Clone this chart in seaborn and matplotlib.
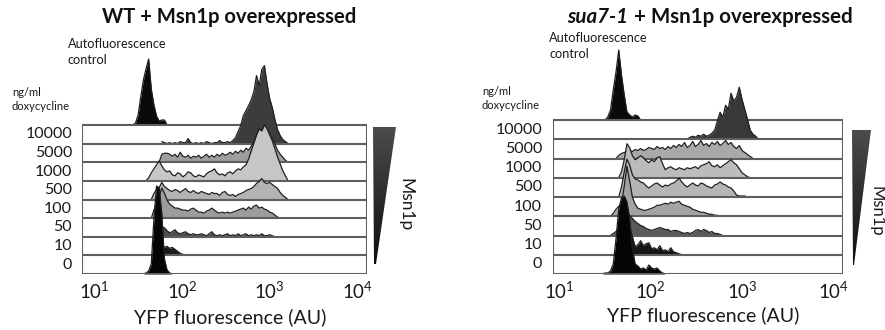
import numpy as np
import pandas as pd
import matplotlib
matplotlib.use("Agg")
import matplotlib.pyplot as plt
import matplotlib.transforms as mtransforms
from matplotlib.patches import Polygon
from matplotlib.ticker import NullLocator
from matplotlib.colors import LinearSegmentedColormap
import seaborn as sns

sns.set_theme(style="white")
plt.rcParams["font.family"] = ["Lato", "DejaVu Sans"]
plt.rcParams["mathtext.default"] = "regular"

# ---------------- data ----------------
BIN = 0.03  # channel width in log10(AU)
dox_labels = ["0", "10", "50", "100", "500", "1000", "5000", "10000"]
tick_values = [10, 100, 1000, 10000]

# WT + Msn1p : first channel (log10 AU) and counts per channel
wt_start = [1.56, 1.68, 1.68, 1.65, 1.65, 1.59, 1.74, 1.77]
wt_auto_start = 1.44
wt_auto = [0, 2, 10, 28, 45, 56, 66, 36, 20, 9, 4, 5, 5, 0]
wt_0 = [0, 1, 3, 10, 55, 88, 86, 60, 15, 4, 1, 0]
wt_10 = [0, 5, 8, 9, 8, 9, 7, 8, 6, 4, 2, 1, 0]
wt_50 = [0, 4, 8, 10, 9, 6, 4, 5, 7, 4, 3, 4, 5, 3, 2, 3, 2, 2, 3, 2,
         1, 3, 5, 2, 1, 2, 1, 2, 3, 1, 2, 1, 3, 1, 2, 3, 1, 2, 1, 2,
         1, 3, 1, 1, 2, 1, 0]
wt_100 = [0, 8, 15, 22, 30, 25, 18, 14, 12, 10, 10, 9, 8, 8, 7, 9, 10, 8, 6, 6,
          5, 7, 8, 10, 8, 6, 5, 6, 5, 6, 5, 6, 7, 8, 9, 10, 8, 11, 9, 12,
          13, 10, 11, 9, 8, 6, 5, 3, 1, 0]
wt_500 = [0, 6, 10, 12, 17, 13, 11, 9, 8, 10, 9, 7, 9, 11, 8, 7, 9, 7, 6, 8,
          7, 6, 5, 7, 6, 6, 4, 7, 8, 5, 4, 5, 3, 5, 6, 7, 9, 10, 11, 13,
          16, 18, 21, 17, 16, 17, 15, 13, 11, 7, 4, 2, 0]
wt_1000 = [0, 3, 8, 12, 16, 20, 15, 11, 9, 10, 6, 5, 8, 7, 4, 6, 9, 8, 5, 4,
           6, 5, 4, 7, 9, 10, 12, 8, 6, 7, 5, 8, 9, 7, 10, 12, 11, 14, 16, 22,
           30, 38, 46, 52, 50, 56, 52, 46, 40, 32, 24, 17, 10, 5, 0]
wt_5000 = [0, 8, 9, 9, 8, 6, 8, 5, 10, 6, 5, 7, 4, 6, 5, 7, 4, 6, 8, 5,
           7, 5, 8, 6, 9, 7, 8, 10, 8, 11, 9, 12, 10, 14, 12, 16, 20, 24, 28, 30,
           34, 31, 28, 24, 18, 12, 8, 5, 2, 0]
wt_10000 = [2, 1, 0, 1, 0, 1, 0, 2, 1, 1, 5, 1, 0, 1, 0, 1, 0, 2, 1, 0,
            1, 1, 3, 1, 1, 2, 1, 3, 6, 12, 18, 28, 33, 38, 44, 52, 68, 58, 74, 78,
            60, 45, 36, 24, 14, 8, 4, 2, 0]

# sua7-1 + Msn1p
sua_start = [1.47, 1.62, 1.56, 1.56, 1.65, 1.65, 1.62, 2.40]
sua_auto_start = 1.50
sua_auto = [0, 3, 10, 30, 48, 70, 45, 25, 8, 5, 3, 5, 4, 0]
sua_0 = [0, 1, 1, 3, 10, 35, 65, 76, 78, 72, 55, 25, 10, 8, 5, 6, 4, 9, 6, 5,
         6, 3, 1, 0]
sua_10 = [0, 12, 22, 28, 30, 26, 18, 8, 10, 14, 9, 11, 12, 6, 7, 5, 9, 4, 5, 3,
          7, 3, 2, 1, 0]
sua_50 = [0, 2, 4, 8, 14, 20, 24, 20, 17, 14, 12, 10, 9, 7, 6, 5, 6, 7, 8, 7,
          6, 6, 4, 5, 5, 4, 3, 2, 3, 2, 3, 5, 6, 4, 6, 5, 3, 4, 2, 2, 1, 0]
sua_100 = [0, 3, 7, 10, 12, 30, 50, 35, 19, 12, 8, 7, 6, 6, 7, 8, 9, 11, 11, 12,
           13, 12, 14, 13, 14, 15, 12, 11, 10, 9, 7, 6, 5, 4, 4, 3, 2, 2, 1, 1, 0]
sua_500 = [0, 10, 25, 38, 32, 22, 18, 17, 15, 14, 11, 9, 11, 13, 14, 12, 10, 12, 11, 13,
           14, 16, 19, 15, 12, 10, 12, 14, 12, 11, 14, 13, 11, 10, 9, 12, 13, 15, 13, 12,
           10, 9, 6, 2, 1, 1, 1, 0]
sua_1000 = [0, 6, 18, 34, 30, 22, 18, 20, 22, 20, 17, 15, 18, 16, 20, 21, 14, 8, 10, 11,
            9, 8, 10, 9, 8, 10, 9, 10, 11, 9, 12, 13, 14, 16, 12, 11, 13, 10, 12, 14,
            16, 18, 15, 13, 9, 5, 3, 1, 0]
sua_5000 = [0, 3, 5, 6, 7, 8, 7, 9, 8, 10, 8, 9, 11, 10, 9, 12, 10, 11, 9, 12,
            10, 13, 11, 14, 12, 16, 11, 13, 17, 12, 14, 18, 13, 15, 12, 16, 14, 17, 13, 15,
            18, 14, 16, 12, 10, 13, 8, 6, 4, 2, 0]
sua_10000 = [0, 2, 3, 2, 4, 3, 5, 3, 4, 6, 9, 18, 27, 22, 34, 30, 46, 38, 42, 52,
             40, 30, 20, 9, 5, 3, 0]

wt_rows = [wt_0, wt_10, wt_50, wt_100, wt_500, wt_1000, wt_5000, wt_10000]
sua_rows = [sua_0, sua_10, sua_50, sua_100, sua_500, sua_1000, sua_5000, sua_10000]

wt_colors = ["#050505", "#1c1c1c", "#4d4d4d", "#9c9c9c", "#b3b3b3", "#c6c6c6", "#9e9e9e", "#3c3c3c"]
sua_colors = ["#050505", "#151515", "#5a5a5a", "#a3a3a3", "#b5b5b5", "#bcbcbc", "#a9a9a9", "#383838"]
auto_color = "#0a0a0a"

# ---------------- figure ----------------
W, H = 885, 330
fig = plt.figure(figsize=(W / 100, H / 100), dpi=100)


def fx(px):
    return px / W


def fy(py):
    return 1 - py / H


# overlay for the wedges (pixel coordinates)
over = fig.add_axes([0, 0, 1, 1])
over.set_xlim(0, W)
over.set_ylim(H, 0)
over.axis("off")
over.patch.set_alpha(0)

LINE_C = "#5e5e5e"
TXT = "#1a1a1a"


def panel(box_l, box_r, box_t, box_b, ax_top, logmin, logmax, starts, rows,
          auto_start, auto, colors, label_right, xlabel_x, xlabel_y):
    row_px = (box_b - box_t) / 8
    ax = fig.add_axes([fx(box_l), fy(box_b), (box_r - box_l) / W, (box_b - ax_top) / H])
    ax.set_facecolor("none")
    ax.set_xscale("log")
    xmin, xmax = 10 ** logmin, 10 ** logmax
    ax.set_xlim(xmin, xmax)
    ytop = (box_b - ax_top) / row_px
    ax.set_ylim(0, ytop)
    for s in ax.spines.values():
        s.set_visible(False)

    all_rows = list(zip(starts, rows, colors)) + [(auto_start, auto, auto_color)]
    for k, (st, vals, col) in enumerate(all_rows):
        vals = np.asarray(vals, dtype=float)
        df = pd.DataFrame({"fl": 10 ** (st + BIN * np.arange(len(vals))),
                           "y": k + vals / row_px})
        z = 10 + (8 - k) * 2
        ax.fill_between(df["fl"], k, df["y"], color=col, lw=0, zorder=z)
        sns.lineplot(data=df, x="fl", y="y", ax=ax, color="#1e1e1e", lw=0.9,
                     sort=False, estimator=None, zorder=z + 0.5, legend=False)
        ax.plot([xmin, xmax], [k, k], color=LINE_C, lw=1.5, zorder=z + 1,
                solid_capstyle="projecting")
    ax.axvline(xmin, ymin=0, ymax=8 / ytop, color=LINE_C, lw=1.5, zorder=40)
    ax.axvline(xmax, ymin=0, ymax=8 / ytop, color=LINE_C, lw=1.5, zorder=40)

    ax.set_xticks(tick_values)
    ax.xaxis.set_minor_locator(NullLocator())
    ax.tick_params(axis="x", length=0, pad=5, labelsize=13.5, labelcolor=TXT)
    ax.set_yticks([])
    ax.set_xlabel("")
    ax.set_ylabel("")

    tr = mtransforms.blended_transform_factory(fig.transFigure, ax.transData)
    for k, lab in enumerate(dox_labels):
        ax.text(fx(label_right), k + 0.5, lab, transform=tr, ha="right", va="center",
                fontsize=11.5, color=TXT)
    fig.text(fx(xlabel_x), fy(xlabel_y), "YFP fluorescence (AU)", ha="center",
             va="center", fontsize=14, color=TXT)
    return ax


panel(82, 367, 125, 274, 30, 0.86, 4.11, wt_start, wt_rows, wt_auto_start, wt_auto,
      wt_colors, 72, 230, 317)
panel(553, 843, 120, 274, 30, 0.93, 4.106, sua_start, sua_rows, sua_auto_start, sua_auto,
      sua_colors, 542, 703, 315)

# wedges with gradient (dark grey at the top, near black at the tip)
wedge_cmap = LinearSegmentedColormap.from_list("wedge", ["#4c4c4c", "#0e0e0e"])
grad = np.linspace(0, 1, 200).reshape(-1, 1)
for pts in ([(373, 127), (396, 127), (376, 264), (374, 264)],
            [(852, 130), (871, 130), (854, 265), (853, 265)]):
    poly = Polygon(pts, closed=True, facecolor="none", edgecolor="none")
    over.add_patch(poly)
    xs = [p[0] for p in pts]
    ys = [p[1] for p in pts]
    im = over.imshow(grad, extent=[min(xs), max(xs), max(ys), min(ys)], cmap=wedge_cmap,
                     vmin=0, vmax=1, aspect="auto", interpolation="bilinear")
    im.set_clip_path(poly)
over.set_xlim(0, W)
over.set_ylim(H, 0)

fig.text(fx(405), fy(205), "Msn1p", rotation=270, ha="center", va="center",
         fontsize=12.5, color=TXT)
fig.text(fx(876), fy(211), "Msn1p", rotation=270, ha="center", va="center",
         fontsize=12, color=TXT)

# annotations
for x, y in ((12, 87), (482, 86)):
    fig.text(fx(x), fy(y), "ng/ml\ndoxycycline", ha="left", va="top", fontsize=8,
             linespacing=1.35, color=TXT)
for x, y in ((68, 38), (549, 32)):
    fig.text(fx(x), fy(y), "Autofluorescence\ncontrol", ha="left", va="top", fontsize=9.2,
             linespacing=1.35, color=TXT)

# titles
fig.text(fx(229), fy(17), "WT + Msn1p overexpressed", ha="center", va="center",
         fontsize=14.6, fontweight="bold", color="#111111")
t1 = fig.text(0, fy(17), "sua7-1", ha="left", va="center", fontsize=14.8,
              fontweight="bold", fontstyle="italic", color="#111111")
t2 = fig.text(0, fy(17), " + Msn1p overexpressed", ha="left", va="center", fontsize=14.8,
              fontweight="bold", color="#111111")
fig.canvas.draw()
r = fig.canvas.get_renderer()
w1 = t1.get_window_extent(r).width
w2 = t2.get_window_extent(r).width
left = 710 - (w1 + w2) / 2
t1.set_x(fx(left))
t2.set_x(fx(left + w1))

fig.savefig("out.png", dpi=100)
